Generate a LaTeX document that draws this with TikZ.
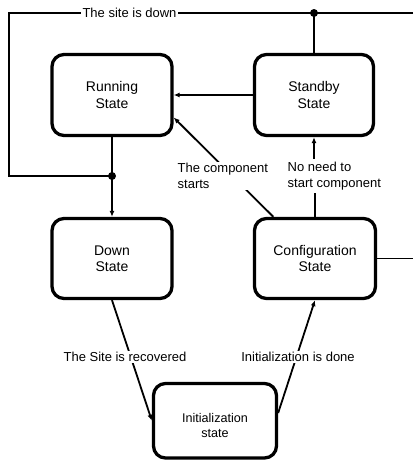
\documentclass[tikz,border=0pt]{standalone}
\usepackage{fontspec}
\setmainfont{Liberation Sans}
\usetikzlibrary{arrows.meta}
\begin{document}
\begin{tikzpicture}[x=1pt,y=-1pt,
  statebox/.style={draw, line width=3.3pt, rounded corners=12pt, align=center,
    inner sep=0pt, minimum width=120pt, minimum height=81pt,
    font=\fontsize{14}{16.5}\selectfont},
  lbl/.style={fill=white, inner sep=1.5pt, align=left, font=\fontsize{13}{16}\selectfont},
  conn/.style={line width=1.8pt},
  arr/.style={conn, -{Latex[length=6pt,width=5pt]}},
  dot/.style={fill=black}]
\useasboundingbox (0,0) rectangle (413,461);

\node[statebox] (running) at (112,95) {Running\\State};
\node[statebox, minimum width=119pt] (standby) at (314,95) {Standby\\State};
\node[statebox, minimum height=80pt] (down) at (112,258.5) {Down\\State};
\node[statebox, minimum width=121pt, minimum height=80pt] (config) at (315,258.5) {Configuration\\State};
\node[statebox, minimum width=123pt, minimum height=74.5pt, font=\fontsize{12.6}{15}\selectfont] (init) at (215,420.75) {\rule{0pt}{19pt}Initialization\\state};

\coordinate (j1) at (112,176);
\coordinate (j2) at (314,13);
\coordinate (tr) at (413,13);
\coordinate (tl) at (9,13);
\coordinate (bl) at (9,176);
\coordinate (cr) at (413,258.5);

% site down
\draw[conn] (tr) -- (tl) -- (bl) -- (j1);
\draw[conn] (standby.north) -- (j2);
\draw[conn] (running.south) -- (j1);
\draw[arr] (j1) -- (down.north);
\fill[dot] (j1) circle (4pt);
\fill[dot] (j2) circle (4pt);
\node[lbl, inner xsep=2pt] (sitedown) at (129.5,13) {The site is down};

% standby -> running
\draw[arr] (standby.west) -- (running.east |- standby.west);

% component starts
\draw[arr] (config.135) -- (running.-20);
\node[lbl, anchor=west] (cstarts) at (176,176) {The component\\starts};

% no need
\node[lbl, anchor=west, inner ysep=3pt] (noneed) at (286,176) {No need to\\start component};
\draw[conn] (config.north) -- (noneed.south -| config.north);
\draw[arr] (noneed.north -| standby.south) -- (standby.south);

% config right
\draw[conn] (config.east) -- (cr);

% recovered
\draw[arr] (down.south) -- (init.west);
\node[lbl] (recovered) at (125,357) {The Site is recovered};

% init done
\draw[arr] (init.7) -- (config.south);
\node[lbl] (initdone) at (298,357) {Initialization is done};
\end{tikzpicture}
\end{document}
